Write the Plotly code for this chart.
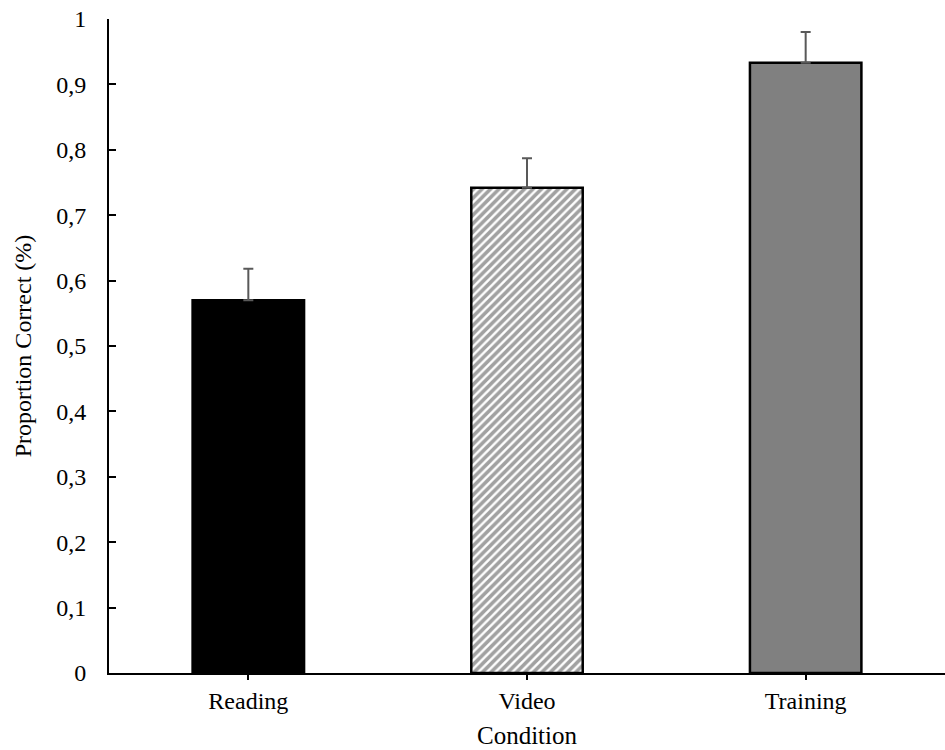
import plotly.graph_objects as go

categories = ["Reading", "Video", "Training"]
values = [0.570, 0.742, 0.933]
errors = [0.048, 0.045, 0.047]
fill_colors = ["#000000", "#ffffff", "#808080"]
patterns = ["", "/", ""]

fig = go.Figure()
fig.add_trace(go.Bar(
    x=categories,
    y=values,
    width=0.4,
    marker=dict(
        color=fill_colors,
        line=dict(color="#000000", width=2.5),
        pattern=dict(shape=patterns, fgcolor="#000000", bgcolor="#ffffff", size=6, solidity=0.6),
    ),
    error_y=dict(type="data", symmetric=False, array=errors, arrayminus=[0, 0, 0],
                 color="#595959", thickness=2, width=5),
))

fig.update_layout(
    width=945, height=750,
    margin=dict(l=109, r=0, t=19, b=77),
    paper_bgcolor="white", plot_bgcolor="white",
    separators=",.",
    font=dict(family="Liberation Serif, Times New Roman, serif", size=24, color="#000000"),
    showlegend=False,
)
fig.update_xaxes(
    automargin=False,
    showline=True, linecolor="#000000", linewidth=2,
    ticks="outside", ticklen=5, tickwidth=2, tickcolor="#000000",
    title=dict(text="Condition", font=dict(size=25), standoff=14),
    showgrid=False,
)
fig.update_yaxes(
    automargin=False,
    range=[0, 1], dtick=0.1, tick0=0,
    showline=True, linecolor="#000000", linewidth=2,
    ticks="inside", ticklen=7, tickwidth=2, tickcolor="#000000",
    ticklabelstandoff=16, ticklabeloverflow="allow",
    title=dict(text="Proportion Correct (%)", font=dict(size=24), standoff=18),
    showgrid=False, zeroline=False,
)

# remove the default page margin so the figure fills the window exactly
fig.write_html("out.html", config={"displayModeBar": False},
               post_script="document.body.style.margin='0';")
